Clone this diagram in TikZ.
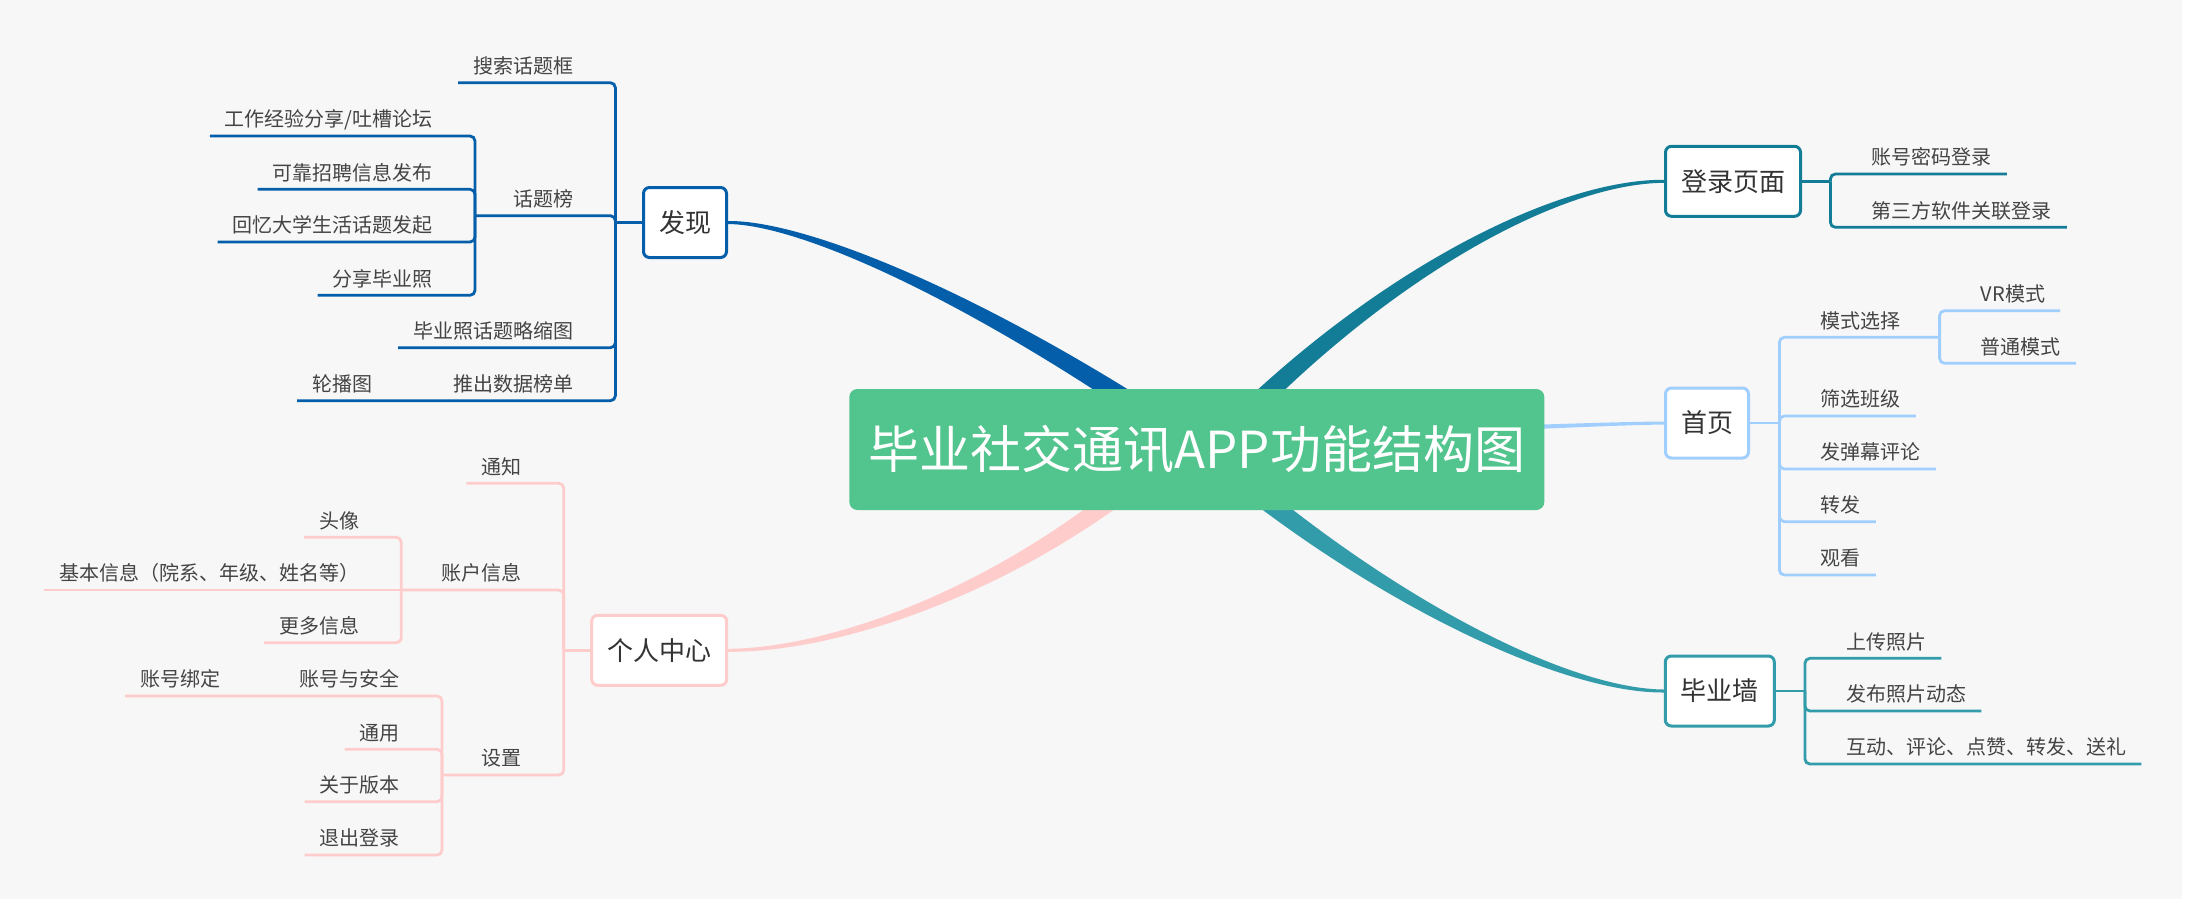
\documentclass[tikz,border=0pt]{standalone}
\usepackage{fontspec}
\setmainfont{Noto Sans CJK SC}
\usetikzlibrary{calc}
\definecolor{bgc}{RGB}{247,247,247}
\definecolor{cgreen}{RGB}{82,196,141}
\definecolor{cblue}{RGB}{4,94,170}
\definecolor{cteal}{RGB}{19,125,152}
\definecolor{clblue}{RGB}{160,207,255}
\definecolor{cteal2}{RGB}{51,156,170}
\definecolor{cpink}{RGB}{255,204,204}
\definecolor{txt}{RGB}{68,68,68}
\definecolor{txtm}{RGB}{51,51,51}
\pgfdeclarelayer{back}
\pgfsetlayers{back,main}
% tapered branch: #1 colour, #2 A, #3 C1, #4 C2, #5 B, #6-#9 half widths
\newcommand\taper[9]{%
  \fill[#1] ($(#2)!#6!90:(#3)$) .. controls ($(#3)!#7!90:(#4)$) and ($(#4)!#8!90:(#5)$) .. ($(#5)!#9!-90:(#4)$)
    -- ($(#5)!#9!90:(#4)$) .. controls ($(#4)!#8!-90:(#5)$) and ($(#3)!#7!-90:(#4)$) .. ($(#2)!#6!-90:(#3)$) -- cycle;}
\begin{document}
\begin{tikzpicture}[x=1pt,y=-1pt,
  lab/.style={font=\fontsize{20}{24}\selectfont, text=txt, inner xsep=15pt, inner ysep=0pt, text height=15pt, text depth=9pt},
  labL/.style={lab, anchor=south east},
  labR/.style={lab, anchor=south west},
  mainbox/.style={draw, line width=3pt, fill=white, rounded corners=6pt, font=\fontsize{26}{30}\selectfont, text=txtm, inner xsep=15.5pt, inner ysep=0pt, minimum height=70pt},
  ln/.style={line width=2.8pt, rounded corners=5pt},
  bl/.style={ln, draw=cblue},
  pk/.style={ln, draw=cpink},
  tl/.style={ln, draw=cteal},
  lb/.style={ln, draw=clblue},
  tw/.style={ln, draw=cteal2}]
\useasboundingbox (0,0) rectangle (2196,906);
\begin{pgfonlayer}{back}
\fill[white] (0,0) rectangle (2196,906);
\fill[bgc] (0,0) rectangle (2182,899);
\end{pgfonlayer}

% central and main nodes
\node[fill=cgreen, rounded corners=8pt, minimum width=695pt, minimum height=121pt, inner sep=0pt, text=white, font=\fontsize{51}{60}\selectfont] (root) at (1196.8,449.5) {毕业社交通讯APP功能结构图};
\node[mainbox, draw=cblue] (disc) at (685,222.5) {发现};
\node[mainbox, draw=cpink] (me) at (659.2,650.3) {个人中心};
\node[mainbox, draw=cteal] (login) at (1733,181.3) {登录页面};
\node[mainbox, draw=clblue] (home) at (1707,423) {首页};
\node[mainbox, draw=cteal2] (wall) at (1719.8,691) {毕业墙};

\begin{pgfonlayer}{back}
\taper{cblue}{disc.east}{800,222.5}{960,290}{1150,415}{1.5pt}{2.5pt}{6.5pt}{10pt}
\taper{cteal}{login.west}{1560,181.3}{1390,270}{1240,420}{1.5pt}{2.5pt}{6.5pt}{10pt}
\taper{cpink}{me.east}{830,650.3}{1000,595}{1150,470}{1.5pt}{2.5pt}{6.5pt}{10pt}
\taper{cteal2}{wall.west}{1570,691}{1400,610}{1240,480}{1.5pt}{2.5pt}{6.5pt}{10pt}
\taper{clblue}{home.west}{1620,423.5}{1560,426}{1450,430}{1.5pt}{1.7pt}{2pt}{2.5pt}
\end{pgfonlayer}

% ---------- 发现 ----------
\coordinate (dT) at (615.4,222.5);
\node[labL] (s1) at (588.4,82.7) {搜索话题框};
\node[labL] (htb) at (588.4,215.7) {话题榜};
\node[labL] (s3) at (588.4,347.7) {毕业照话题略缩图};
\node[labL] (s4) at (588.4,400.7) {推出数据榜单};
\coordinate (ht) at (475,215.7);
\node[labL] (h1) at (448,136) {工作经验分享/吐槽论坛};
\node[labL] (h2) at (448,189.3) {可靠招聘信息发布};
\node[labL] (h3) at (448,242) {回忆大学生活话题发起};
\node[labL] (h4) at (448,295.3) {分享毕业照};
\coordinate (st4) at (414.5,400.7);
\node[labL] (lbt) at (387.5,400.7) {轮播图};
\draw[bl] (disc.west) -- (dT);
\draw[bl] (dT) |- (s1.south west);
\draw[bl] (dT) |- (s3.south west);
\draw[bl] (dT) |- (htb.south west) -- (ht);
\draw[bl] (dT) |- (s4.south west) -- (st4) -- (lbt.south west);
\foreach \n in {h1,h2,h3,h4} \draw[bl] (ht) |- (\n.south west);

% ---------- 个人中心 ----------
\coordinate (mT) at (563.7,650.3);
\node[labL] (p1) at (536.7,483.3) {通知};
\node[labL] (p2) at (536.7,590) {账户信息};
\node[labL] (p3) at (536.7,775) {设置};
\coordinate (pt2) at (401.3,590);
\node[labL] (q1) at (374.3,537.3) {头像};
\node[labL] (q2) at (374.3,590) {基本信息（院系、年级、姓名等）};
\node[labL] (q3) at (374.3,642.7) {更多信息};
\coordinate (pt3) at (442,775);
\node[labL] (r1) at (415,696) {账号与安全};
\node[labL] (r2) at (415,749.3) {通用};
\node[labL] (r3) at (415,801.7) {关于版本};
\node[labL] (r4) at (415,855) {退出登录};
\coordinate (rt1) at (262.5,696);
\node[labL] (r11) at (235.5,696) {账号绑定};
\draw[pk] (me.west) -- (mT);
\draw[pk] (mT) |- (p1.south west);
\draw[pk] (mT) |- (p2.south west) -- (pt2);
\draw[pk] (mT) |- (p3.south west) -- (pt3);
\draw[pk] (pt2) |- (q1.south west);
\draw[pk] (pt2) -- (q2.south west);
\draw[pk] (pt2) |- (q3.south west);
\draw[pk] (pt3) |- (r1.south west) -- (rt1) -- (r11.south west);
\foreach \n in {r2,r3,r4} \draw[pk] (pt3) |- (\n.south west);

% ---------- 登录页面 ----------
\coordinate (lT) at (1830.4,181.3);
\node[labR] (l1) at (1856.4,174) {账号密码登录};
\node[labR] (l2) at (1856.4,227.3) {第三方软件关联登录};
\draw[tl] (login.east) -- (lT);
\draw[tl] (lT) |- (l1.south east);
\draw[tl] (lT) |- (l2.south east);

% ---------- 首页 ----------
\coordinate (hT) at (1779.4,423);
\node[labR] (k1) at (1805.4,337.3) {模式选择};
\node[labR] (k2) at (1805.4,416) {筛选班级};
\node[labR] (k3) at (1805.4,469) {发弹幕评论};
\node[labR] (k4) at (1805.4,521.7) {转发};
\node[labR] (k5) at (1805.4,575) {观看};
\coordinate (kt) at (1939.6,337.3);
\node[labR] (m1) at (1965.6,310.7) {VR模式};
\node[labR] (m2) at (1965.6,363.3) {普通模式};
\draw[lb] (home.east) -- (hT);
\draw[lb] (hT) |- (k1.south east) -- (kt);
\foreach \n in {k2,k3,k4,k5} \draw[lb] (hT) |- (\n.south east);
\draw[lb] (kt) |- (m1.south east);
\draw[lb] (kt) |- (m2.south east);

% ---------- 毕业墙 ----------
\coordinate (wT) at (1804.9,691);
\node[labR] (w1) at (1830.9,658.3) {上传照片};
\node[labR] (w2) at (1830.9,711) {发布照片动态};
\node[labR] (w3) at (1830.9,764) {互动、评论、点赞、转发、送礼};
\draw[tw] (wall.east) -- (wT);
\foreach \n in {w1,w2,w3} \draw[tw] (wT) |- (\n.south east);
\end{tikzpicture}
\end{document}
